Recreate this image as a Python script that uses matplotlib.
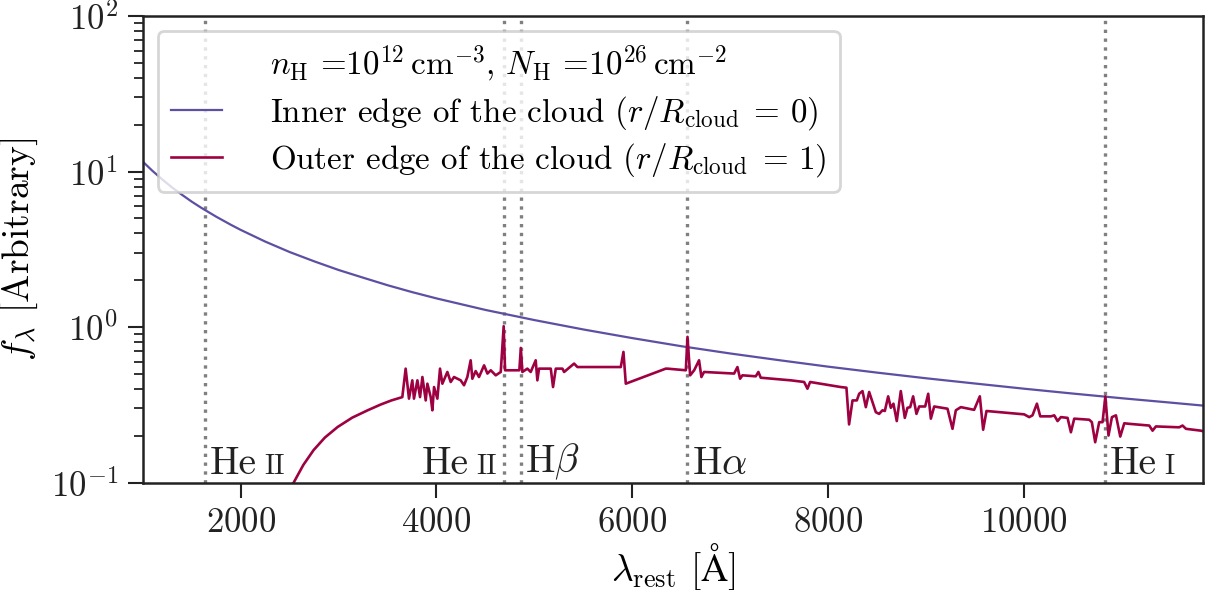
import matplotlib
matplotlib.use("Agg")
import matplotlib.pyplot as plt
from matplotlib.lines import Line2D

plt.rcParams['font.family'] = 'serif'
plt.rcParams['font.serif'] = ['cmr10']
plt.rcParams['mathtext.fontset'] = 'cm'
plt.rcParams['axes.unicode_minus'] = False
plt.rcParams['axes.formatter.use_mathtext'] = True
plt.rcParams['font.size'] = 12.5

# -----------------------------
# continuum at the inner edge (r/R = 0)
# -----------------------------
wl_inner = [1000, 1100, 1200, 1300, 1400, 1500, 1600, 1750, 1900, 2000, 2250,
            2500, 2750, 3000, 3250, 3500, 3750, 4000, 4500, 5000, 5500, 6000,
            6500, 7000, 7500, 8000, 8500, 9000, 9500, 10000, 10500, 11000,
            11500, 11830]
f_inner = [11.6, 10.1, 8.9, 7.9, 7.1, 6.41, 5.84, 5.13, 4.55, 4.22, 3.55,
           3.04, 2.65, 2.33, 2.08, 1.86, 1.68, 1.53, 1.29, 1.11, 0.966, 0.85,
           0.754, 0.677, 0.613, 0.557, 0.51, 0.469, 0.434, 0.402, 0.374, 0.349,
           0.327, 0.313]

# -----------------------------
# emergent spectrum at the outer edge (r/R = 1)
# -----------------------------
wl_outer = [2450, 2541, 2640, 2745, 2860, 2990, 3140, 3297, 3430, 3540, 3651,
            3685, 3719, 3753, 3770,
            3805, 3832, 3856, 3890, 3907, 3941, 3958, 3975, 4009, 4036, 4060,
            4111, 4145, 4179, 4247, 4281, 4315, 4349, 4366, 4400, 4434, 4486,
            4520, 4554, 4605, 4656, 4686, 4700, 4846, 4861, 4877, 4928, 4962,
            5013, 5030, 5047, 5167, 5190, 5218, 5286, 5303, 5405, 5439, 5882,
            5909, 5933, 6341, 6358, 6546, 6563, 6590, 6631, 6681, 6705, 6732,
            7039, 7073, 7100, 7124, 7260, 7287, 7311, 7618, 7754, 7788, 7815,
            8128, 8186, 8213, 8248, 8292, 8316, 8350, 8384, 8418, 8452, 8486,
            8520, 8554, 8578, 8612, 8639, 8666, 8700, 8741, 8782, 8809, 8837,
            8867, 8901, 8929, 8990, 9021, 9048, 9082, 9218, 9269, 9303, 9354,
            9490, 9548, 9582, 9616, 10001, 10052, 10086, 10131, 10165, 10274,
            10308, 10342, 10376, 10444, 10478, 10512, 10665, 10692, 10726,
            10767, 10801, 10830, 10862, 10897, 10938, 10982, 11023, 11074,
            11278, 11312, 11346, 11584, 11618, 11653, 11806, 11830]
f_outer = [0.085, 0.1, 0.13, 0.162, 0.195, 0.228, 0.262, 0.292, 0.318, 0.338,
           0.355, 0.541, 0.347, 0.455,
           0.347, 0.455, 0.355, 0.478, 0.338, 0.433, 0.355, 0.292, 0.412, 0.347,
           0.541, 0.433, 0.515, 0.444, 0.478, 0.455, 0.423, 0.478, 0.612, 0.466,
           0.522, 0.478, 0.568, 0.503, 0.528, 0.49, 0.515, 1.014, 0.528, 0.528,
           0.735, 0.515, 0.541, 0.515, 0.612, 0.455, 0.541, 0.541, 0.412, 0.541,
           0.541, 0.515, 0.583, 0.554, 0.554, 0.693, 0.433, 0.541, 0.541, 0.528,
           0.866, 0.49, 0.528, 0.612, 0.478, 0.515, 0.503, 0.554, 0.466, 0.49,
           0.483, 0.515, 0.473, 0.455, 0.444, 0.402, 0.444, 0.412, 0.408, 0.237,
           0.338, 0.338, 0.373, 0.388, 0.306, 0.383, 0.33, 0.284, 0.277, 0.292,
           0.289, 0.359, 0.303, 0.322, 0.249, 0.388, 0.261, 0.303, 0.306, 0.359,
           0.277, 0.309, 0.309, 0.373, 0.258, 0.309, 0.299, 0.222, 0.292, 0.306,
           0.294, 0.359, 0.219, 0.289, 0.275, 0.264, 0.271, 0.322, 0.267, 0.267,
           0.271, 0.249, 0.264, 0.261, 0.211, 0.258, 0.254, 0.245, 0.182, 0.245,
           0.245, 0.359, 0.201, 0.264, 0.271, 0.198, 0.241, 0.239, 0.233, 0.216,
           0.23, 0.227, 0.233, 0.222, 0.216, 0.214]

# -----------------------------
# emission lines marked on the plot
# -----------------------------
line_wl = [1640, 4686, 4861, 6563, 10830]
line_main = ['He', 'He', r'H$\beta$', r'H$\alpha$', 'He']
line_ion = ['II', 'II', '', '', 'I']
line_side = ['right', 'left', 'right', 'right', 'right']

c_inner = '#5E4FA2'
c_outer = '#9E0142'

fig = plt.figure(figsize=(6.08, 2.95), dpi=200)
ax = fig.add_axes([142.7 / 1216, 1 - 482.7 / 590, (1203.3 - 142.7) / 1216,
                   (482.7 - 16) / 590])

for wl in line_wl:
    ax.axvline(wl, color='#808080', ls=':', lw=1.2, zorder=1)

ax.plot(wl_inner, f_inner, color=c_inner, lw=0.8, zorder=2,
        label=r'Inner edge of the cloud ($r/R_{\rm cloud}\;=\,0$)')
ax.plot(wl_outer, f_outer, color=c_outer, lw=0.95, zorder=2,
        label=r'Outer edge of the cloud ($r/R_{\rm cloud}\;=\,1$)')

# line labels: element in normal size, ionisation stage smaller (small caps look)
lab_fs = 14.2
ion_fs = 10.2
for wl, main, ion, side in zip(line_wl, line_main, line_ion, line_side):
    if side == 'right':
        t = ax.annotate(main, xy=(wl, 0.0), xycoords=('data', 'axes fraction'),
                        xytext=(1.5, 0.2), textcoords='offset points',
                        ha='left', va='bottom', fontsize=lab_fs,
                        color='#222222')
        if ion:
            ax.annotate(ion, xy=(1, 0), xycoords=t, xytext=(2.8, 0.8),
                        textcoords='offset points', ha='left', va='bottom',
                        fontsize=ion_fs, color='#222222')
    else:
        t = ax.annotate(ion, xy=(wl, 0.0), xycoords=('data', 'axes fraction'),
                        xytext=(-2.4, 1.0), textcoords='offset points',
                        ha='right', va='bottom', fontsize=ion_fs,
                        color='#222222')
        ax.annotate(main, xy=(0, 0), xycoords=t, xytext=(-2.8, -0.8),
                    textcoords='offset points', ha='right', va='bottom',
                    fontsize=lab_fs, color='#222222')

ax.set_yscale('log')
ax.set_xlim(1000, 11830)
ax.set_ylim(0.1, 100)
ax.set_xticks([2000, 4000, 6000, 8000, 10000])
ax.set_xlabel(r'$\lambda_{\rm rest}$ [$\mathrm{\AA}$]', fontsize=13.5,
              labelpad=1)
ax.set_ylabel(r'$f_{\lambda}$ [Arbitrary]', fontsize=13.5)

for s in ax.spines.values():
    s.set_linewidth(0.9)
    s.set_color('#222222')
ax.tick_params(which='major', length=5.4, width=0.75, color='#222222',
               labelcolor='#222222')
ax.tick_params(which='minor', length=3.4, width=0.65, color='#222222')

dummy = Line2D([], [], color='none',
               label=r'$n_{\rm H}$ =$10^{12}\,{\rm cm}^{-3}$, $N_{\rm H}$ =$10^{26}\,{\rm cm}^{-2}$')
h, l = ax.get_legend_handles_labels()
ax.legend([dummy] + h, [dummy.get_label()] + l, loc='upper left',
          fontsize=11.9, handlelength=1.55, handletextpad=1.45,
          labelspacing=0.28, borderaxespad=0.45, framealpha=0.8)

fig.savefig('out.png', dpi=200)
